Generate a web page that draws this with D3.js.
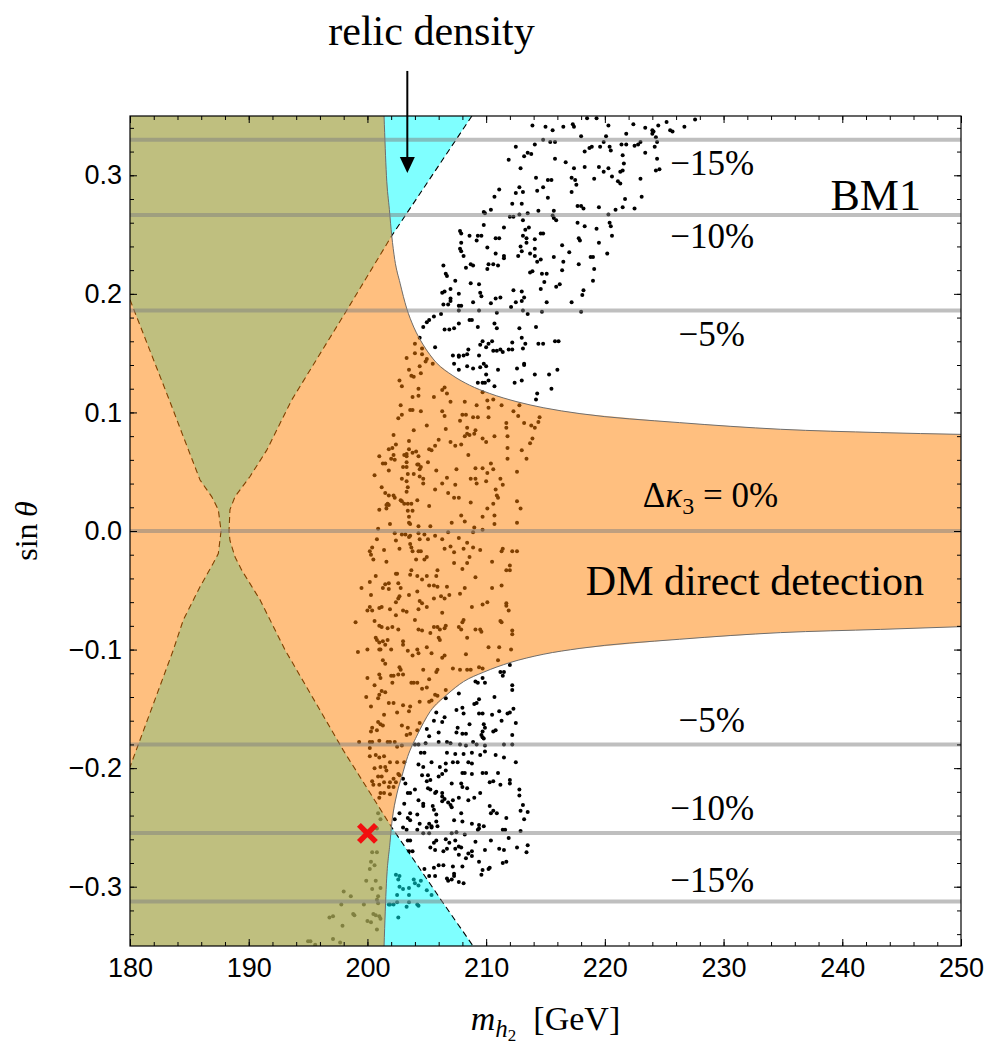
<!DOCTYPE html>
<html>
<head>
<meta charset="utf-8">
<script src="https://cdn.jsdelivr.net/npm/d3@7"></script>
<style>
body { margin: 0; background: #fff; }
</style>
</head>
<body>
<div id="chart"></div>
<script>
/* scan points (m_h2 [GeV], sin theta) */
var scatterUpper = [[213.9,.342],[215.0,.341],[215.6,.338],[216.5,.341],[217.3,.343],[217.4,.341],[218.5,.348],[219.3,.348],[220.3,.342],[222.4,.343],[223.4,.340],[224.0,.338],[224.1,.337],[224.5,.342],[225.2,.345],[225.5,.338],[225.7,.337],[226.7,.341],[227.6,.347],[221.8,.335],[224.0,.335],[218.0,.333],[220.1,.333],[214.8,.330],[215.4,.328],[215.8,.328],[214.1,.326],[212.5,.324],[218.7,.323],[218.9,.324],[219.6,.324],[219.9,.328],[220.4,.324],[221.4,.326],[221.8,.326],[222.8,.326],[222.5,.325],[223.0,.328],[224.3,.332],[224.4,.328],[224.2,.324],[218.3,.320],[220.5,.321],[213.5,.319],[213.8,.318],[213.2,.316],[211.9,.313],[215.8,.314],[216.7,.311],[221.5,.317],[223.4,.319],[224.4,.314],[221.6,.310],[212.9,.306],[217.4,.306],[218.3,.307],[219.5,.307],[219.9,.303],[220.3,.306],[221.3,.303],[221.5,.304],[224.3,.304],[224.6,.305],[217.2,.298],[217.5,.296],[220.6,.299],[214.2,.298],[215.2,.296],[215.5,.296],[214.8,.290],[219.1,.297],[221.1,.295],[221.3,.293],[223.0,.297],[217.6,.292],[212.8,.290],[212.5,.285],[213.1,.286],[211.1,.288],[214.3,.287],[210.7,.282],[215.2,.281],[217.2,.286],[221.7,.280],[223.1,.282],[212.2,.276],[213.0,.276],[217.7,.274],[218.0,.274],[218.2,.272],[219.5,.273],[220.9,.271],[221.5,.273],[222.5,.272],[210.4,.271],[209.8,.269],[209.9,.268],[214.4,.270],[215.7,.270],[213.5,.268],[212.8,.267],[215.6,.266],[215.7,.264],[215.9,.262],[220.3,.267],[212.0,.265],[212.3,.265],[213.1,.262],[209.8,.258],[211.5,.256],[217.7,.260],[218.3,.257],[220.4,.260],[220.5,.257],[213.3,.254],[213.6,.256],[213.1,.249],[214.6,.251],[214.8,.251],[219.3,.255],[207.8,.253],[207.9,.251],[208.6,.249],[209.3,.249],[209.6,.249],[209.2,.245],[210.8,.247],[211.1,.247],[213.4,.247],[217.8,.247],[217.9,.245],[220.6,.249],[207.9,.243],[210.1,.239],[212.9,.240],[213.4,.243],[214.1,.246],[216.4,.241],[214.1,.238],[207.8,.238],[207.9,.236],[210.8,.234],[208.1,.232],[211.5,.232],[211.5,.230],[213.0,.236],[213.7,.234],[214.1,.232],[217.0,.235],[215.7,.231],[218.8,.231],[219.0,.231],[219.5,.243],[220.2,.234],[214.3,.227],[214.6,.229],[206.4,.224],[208.7,.225],[208.9,.224],[208.3,.222],[210.2,.225],[210.6,.225],[211.0,.224],[212.7,.232],[216.5,.227],[216.4,.220],[217.8,.225],[219.1,.221],[210.1,.221],[213.7,.218],[213.9,.219],[214.7,.217],[215.1,.217],[206.6,.217],[206.7,.215],[207.4,.211],[219.0,.211],[208.7,.209],[209.4,.208],[214.9,.210],[216.2,.208],[214.6,.204],[212.3,.203],[213.0,.202],[215.9,.206],[206.3,.201],[206.5,.202],[207.0,.204],[207.7,.200],[209.5,.201],[209.6,.198],[211.2,.197],[207.0,.196],[207.0,.194],[206.4,.191],[206.8,.191],[207.7,.190],[207.9,.190],[208.9,.193],[210.4,.192],[210.8,.196],[212.5,.193],[213.2,.197],[213.0,.194],[215.1,.193],[217.2,.193],[218.2,.203],[218.1,.199],[212.1,.189],[213.5,.183],[214.7,.185],[218.0,.185],[209.4,.186],[207.7,.186],[206.2,.183],[210.9,.184],[213.1,.186],[204.7,.172],[205.0,.176],[205.2,.178],[205.6,.181],[208.6,.178],[208.8,.178],[207.7,.175],[210.7,.175],[210.9,.171],[209.3,.172],[207.3,.171],[206.9,.170],[206.5,.170],[212.8,.171],[214.2,.172]];

var scatterCentre = [[204.4,.163],[205.7,.155],[207.2,.148],[207.7,.148],[207.7,.147],[208.1,.148],[208.4,.149],[208.5,.153],[207.3,.141],[207.7,.136],[208.4,.139],[208.9,.137],[209.4,.148],[209.5,.157],[209.7,.160],[210.0,.155],[210.2,.158],[210.5,.160],[209.5,.138],[209.8,.141],[210.0,.139],[210.0,.132],[210.6,.152],[210.9,.152],[211.2,.153],[211.4,.151],[211.9,.153],[212.2,.153],[211.0,.136],[212.2,.159],[213.0,.163],[213.3,.158],[213.1,.154],[213.2,.141],[213.2,.140],[212.6,.137],[213.0,.127],[212.4,.125],[214.1,.132],[214.4,.158],[214.8,.158],[215.3,.132],[215.5,.120],[215.8,.160],[216.1,.160],[216.0,.136],[214.3,.116],[214.2,.111],[209.3,.125],[209.7,.125],[209.9,.125],[210.2,.127],[210.7,.122],
[204.0,.158],[204.6,.154],[204.6,.149],[204.0,.150],[205.0,.145],[204.9,.143],[203.3,.146],[205.5,.141],[203.5,.136],[204.4,.139],[203.7,.131],[203.9,.130],[204.5,.133],[202.7,.127],[202.9,.122],[204.3,.120],[206.3,.119],[206.5,.121],[206.7,.116],[203.8,.113],[204.3,.114],[205.6,.113],[202.8,.106],[202.9,.098],[202.6,.095],[203.6,.102],[203.8,.102],[204.5,.101],[206.3,.101],[206.5,.097],[207.0,.109],[208.2,.109],[209.2,.106],[209.7,.117],[210.1,.110],[210.2,.104],[210.6,.111],[211.3,.106],[212.3,.101],[212.8,.106],[212.7,.097],[208.0,.098],[208.3,.098],[207.8,.093],[208.9,.096],[209.3,.096],[210.2,.096],[211.7,.091],[211.7,.087],[213.2,.091],[213.8,.089],[214.1,.087],[214.5,.096],[214.4,.092],[205.0,.089],[206.6,.086],[208.4,.087],[208.2,.080],[208.4,.082],[208.6,.081],[209.0,.082],[209.1,.085],[209.7,.078],[210.0,.075],[210.7,.080],[211.8,.080],[213.9,.078],[213.7,.074],[203.9,.085],[202.2,.081],[203.5,.076],[202.1,.070],[202.4,.073],[201.8,.069],[206.0,.077],[205.7,.072],[207.0,.075],[207.4,.072],[207.9,.073],[205.2,.069],[205.4,.068],[203.5,.069],[203.8,.066],[204.1,.067],[203.3,.065],[203.3,.063],[203.1,.064],[202.2,.064],[201.0,.063],[201.3,.057],[201.5,.057],[202.0,.061],[202.3,.060],[213.0,.068],[213.4,.061],[211.8,.070],[211.8,.061],[208.5,.064],[204.3,.063],[203.3,.058],[203.0,.054],[203.3,.054],[204.2,.056],[204.3,.056],[204.5,.054],[204.4,.052],[205.1,.058],[205.8,.051],[207.5,.052],[209.1,.053],[209.7,.053],[210.4,.057],[210.1,.049],[210.6,.052],[212.6,.050],[200.6,.047],[201.8,.051],[202.9,.044],[203.4,.048],[203.9,.048],[204.4,.046],[204.7,.044],[206.7,.045],[208.7,.044],[209.1,.044],[209.2,.040],[210.0,.042],[211.2,.044],[211.4,.039],[210.8,.035],[210.9,.030],[211.0,.028],[210.6,.023],[210.1,.019],[209.7,.012],[210.7,.013],[210.7,.006],[212.6,.025],[212.9,.019],[212.6,.007],[203.3,.042],[203.4,.037],[204.7,.040],[206.3,.040],[207.4,.039],[205.7,.035],[201.2,.037],[201.5,.032],[201.8,.030],[202.2,.030],[202.3,.028],[203.3,.033],[206.8,.032],[207.3,.028],[207.7,.028],[208.7,.024],[203.4,.017],[204.2,.026],[202.8,.026],[202.9,.025],[203.1,.023],[203.4,.023],[203.7,.023],[201.7,.023],[201.6,.022],[201.8,.022],[201.0,.018],[201.6,.019],[205.2,.021],[203.5,.012],[203.8,.017],[203.5,.007],[203.6,.006],[201.9,.006],[204.3,.004],[205.3,.004],[207.1,.007],[207.9,.013],[208.2,.008],[209.0,.003],[200.9,.002],[202.3,-.002],[202.9,-.003],[203.2,-.003],[203.6,-.004],[204.3,-.002],[204.8,-.003],[206.8,-.001],[208.9,-.001],[209.7,.001],[200.8,-.007],[202.4,-.008],[203.5,-.005],[203.6,-.011],[203.7,-.014],[204.4,-.007],[204.5,-.017],[205.1,-.007],[205.7,-.004],[206.3,-.007],[207.0,-.013],[207.7,-.006],[208.4,-.010],[208.9,-.014],[209.5,-.016],[211.4,-.015],[211.3,-.017],[212.2,-.017],[212.6,-.017],[200.2,-.017],[200.3,-.020],[200.4,-.014],[201.4,-.016],[202.7,-.015],[203.8,-.017],[204.3,-.017],[205.0,-.022],[204.8,-.024],[204.1,-.024],[206.5,-.015],[207.3,-.018],[208.1,-.015],[208.6,-.022],[200.5,-.024],[201.6,-.026],
[200.7,-.038],[200.2,-.043],[201.3,-.048],[201.5,-.045],[201.8,-.044],[202.4,-.036],[202.5,-.036],[202.6,-.044],[203.7,-.033],[203.6,-.037],[204.2,-.038],[205.0,-.038],[205.8,-.038],[205.9,-.033],[204.6,-.041],[205.2,-.046],[205.6,-.046],[205.9,-.047],[206.7,-.047],[206.9,-.054],[206.5,-.057],[207.3,-.027],[208.0,-.032],[208.4,-.027],[209.1,-.039],[210.5,-.026],[210.5,-.048],[211.3,-.046],[212.0,-.029],[212.0,-.033],[211.7,-.033],[207.8,-.053],[208.2,-.048],[199.5,-.048],[200.3,-.054],[201.8,-.049],[202.8,-.048],[202.7,-.055],[202.6,-.057],[202.4,-.060],[203.5,-.054],[204.2,-.051],[204.4,-.059],[204.6,-.061],[205.0,-.064],[205.6,-.057],[206.2,-.055],[200.2,-.064],[200.4,-.067],[200.0,-.067],[201.0,-.065],[201.2,-.064],[201.9,-.066],[202.4,-.071],[203.0,-.067],[203.3,-.068],[204.3,-.066],[208.8,-.064],[209.7,-.062],[210.1,-.060],[211.7,-.061],[211.7,-.063],[211.9,-.067],[199.0,-.077],[200.6,-.076],[201.0,-.080],[201.2,-.081],[201.7,-.082],[202.1,-.081],[202.6,-.083],[204.0,-.075],[204.3,-.083],[204.6,-.084],[205.3,-.086],[205.6,-.081],[205.9,-.081],[206.1,-.083],[206.5,-.082],[206.6,-.080],[206.3,-.069],[207.7,-.081],[207.9,-.083],[208.1,-.075],[208.0,-.077],[209.1,-.083],[209.5,-.083],[209.6,-.085],[208.4,-.090],[206.0,-.090],[206.1,-.092],[211.2,-.076],[211.3,-.077],[212.2,-.084],[212.2,-.087],[200.7,-.090],[200.8,-.092],[201.0,-.094],[201.3,-.093],[201.7,-.092],[201.5,-.096],[203.0,-.093],[203.0,-.096],[199.2,-.102],[200.0,-.100],[201.0,-.100],[201.1,-.100],[202.0,-.100],[203.4,-.101],[203.8,-.105],[204.2,-.100],[204.3,-.103],[205.0,-.098],[205.4,-.103],[206.5,-.105],[206.3,-.107],[208.3,-.104],[210.2,-.098],[211.1,-.098],[212.1,-.100],[211.0,-.109],[201.3,-.109],[201.5,-.112],[202.7,-.115],[202.8,-.117],[204.7,-.117],[205.8,-.119],[205.9,-.117],[207.2,-.116],[207.8,-.117],[208.4,-.117],[208.7,-.117],[209.4,-.115],[209.7,-.116],[200.0,-.124],[201.0,-.121],[201.1,-.124],[202.2,-.122],[202.6,-.121],[203.0,-.121],[202.0,-.122],[202.1,-.128],[203.7,-.128],[203.9,-.128],[204.2,-.128],[204.6,-.133],[205.2,-.125],[205.0,-.132],[200.6,-.130],[201.0,-.138],[201.2,-.135],[201.5,-.136],[199.9,-.140],[200.9,-.141],[201.8,-.145],[202.2,-.145],[203.0,-.147],[203.6,-.148],[204.4,-.144],[205.2,-.144],[205.4,-.143],[205.7,-.138],[205.9,-.139],[206.6,-.134],[200.3,-.148],[201.4,-.155],[202.5,-.153],[203.5,-.152],[200.9,-.161],[201.1,-.163],[201.3,-.164],[200.4,-.166],[200.3,-.169],[200.8,-.168],[202.9,-.164],[203.4,-.166],[203.6,-.171],[204.2,-.168],[204.4,-.162],[203.3,-.172],[199.3,-.178],[200.2,-.178],[200.4,-.178],[201.0,-.177],[201.7,-.178],[201.9,-.178],[202.3,-.178],[202.9,-.181],[200.2,-.183],[202.5,-.182],
[212.0,-.113],[211.2,-.119],[211.4,-.122],[211.5,-.119],[209.1,-.127],[209.3,-.128],[209.7,-.124],[209.9,-.128],[212.2,-.130],[212.2,-.134],[207.7,-.137],[206.6,-.141],[209.0,-.146],[209.2,-.145],[209.4,-.142],[210.7,-.140],[208.0,-.149],[207.5,-.151],[208.1,-.154],[209.4,-.154],[209.7,-.154],[210.5,-.155],[211.1,-.152],[211.8,-.154],[212.3,-.150],[212.0,-.153],[205.8,-.153],[206.5,-.157],[205.6,-.160],[206.3,-.161],[207.5,-.170],[208.0,-.171],[208.3,-.171],[207.6,-.166],[208.6,-.163],[209.8,-.163],[209.9,-.166],[209.7,-.169],[209.6,-.172],[209.7,-.174],[210.8,-.168],[210.6,-.169],[211.3,-.160],[212.5,-.162],[212.2,-.172],[205.0,-.167],[205.2,-.173],[204.9,-.179],[206.0,-.170],[206.0,-.178],[206.7,-.178],[207.0,-.179],[207.8,-.180],[208.3,-.181],[208.9,-.178],[209.8,-.175],[209.2,-.180],[209.9,-.181],[204.0,-.180],[204.3,-.180],[212.2,-.180],[211.5,-.180]];

var scatterLower = [[204.5,-.187],[204.8,-.187],[206.7,-.187],[207.4,-.188],[208.1,-.188],[208.8,-.187],[209.5,-.189],[209.9,-.186],[210.8,-.189],[211.5,-.191],[212.5,-.195],[203.1,-.195],[204.3,-.197],[204.7,-.199],[205.4,-.195],[206.1,-.199],[206.6,-.196],[207.2,-.195],[207.6,-.195],[208.5,-.195],[208.8,-.196],[206.6,-.202],[206.3,-.205],[208.0,-.204],[208.2,-.204],[208.8,-.205],[209.7,-.204],[210.0,-.204],[210.3,-.212],[211.0,-.204],[210.6,-.211],[211.2,-.214],[212.0,-.210],[212.0,-.213],[204.6,-.206],[205.1,-.206],[205.0,-.211],[205.3,-.210],[206.0,-.207],[203.0,-.209],[203.2,-.213],[203.4,-.221],[204.0,-.218],[203.6,-.221],[205.1,-.217],[205.3,-.218],[205.7,-.221],[205.8,-.220],[206.3,-.221],[206.3,-.224],[206.5,-.226],[206.8,-.229],[207.0,-.231],[207.1,-.233],[208.0,-.216],[207.1,-.213],[207.9,-.213],[208.4,-.217],[209.5,-.221],[208.5,-.227],[209.0,-.225],[204.3,-.227],[203.1,-.230],[204.7,-.230],[204.7,-.232],[205.5,-.232],[205.6,-.235],[205.8,-.239],[206.3,-.228],[207.2,-.227],[207.7,-.225],[210.3,-.232],[210.4,-.238],[210.6,-.236],[210.9,-.238],[212.8,-.218],[212.8,-.223],[213.1,-.231],[212.9,-.236],[213.5,-.237],[202.7,-.238],[203.6,-.238],[203.4,-.242],[203.6,-.244],[204.2,-.239],[204.4,-.247],[205.2,-.247],[205.4,-.249],[205.8,-.245],[207.3,-.244],[208.0,-.245],[207.9,-.238],[208.8,-.247],[209.4,-.248],[209.8,-.249],[209.4,-.251],[211.7,-.242],[213.2,-.243],[202.3,-.243],[203.3,-.252],[203.0,-.250],[204.2,-.252],[205.0,-.250],[205.4,-.250],[205.9,-.249],[207.1,-.255],[207.5,-.254],[208.2,-.256],[209.3,-.252],[211.4,-.252],[211.6,-.252],[212.9,-.253],[204.7,-.255],[205.2,-.255],[203.6,-.261],[203.4,-.261],[205.8,-.261],[205.6,-.263],[206.6,-.260],[206.9,-.263],[207.4,-.261],[207.7,-.266],[207.4,-.268],[207.9,-.267],[209.1,-.262],[210.4,-.261],[211.9,-.259],[212.6,-.267],[213.5,-.265],[213.4,-.271],[203.8,-.270],[203.5,-.270],[205.3,-.267],[205.7,-.269],[206.4,-.270],[206.7,-.268],[207.7,-.273],[208.5,-.272],[208.3,-.276],[208.8,-.270],[208.8,-.274],[209.9,-.269],[211.1,-.268],[211.5,-.269],[211.7,-.279],[211.4,-.280],[204.8,-.285],[205.6,-.284],[206.0,-.282],[206.4,-.282],[207.3,-.289],[207.3,-.291],[207.2,-.283],[208.0,-.283],[210.3,-.284],[210.2,-.285],[209.6,-.290],[209.7,-.286],[209.4,-.279],[205.2,-.291],[205.7,-.291],[206.7,-.293],[206.8,-.295],[207.1,-.294],[207.7,-.296],[208.1,-.297],
[202.4,-.290],[202.7,-.291],[202.6,-.294],[202.7,-.300],[203.0,-.302],[202.5,-.307],[203.5,-.307],[203.9,-.294],[204.0,-.297],[204.3,-.299],[204.5,-.295],[205.0,-.303],[205.4,-.307],[203.5,-.313],[201.8,-.315],[201.9,-.315],[202.2,-.315],[202.5,-.313],[203.3,-.317],[204.2,-.315],[204.3,-.316],[202.6,-.326],[203.5,-.301],
[200.9,-.238],[201.1,-.243],[200.8,-.251],[200.4,-.271],[200.8,-.271],[200.3,-.279],[200.6,-.282],[200.2,-.285],[199.9,-.295],[200.7,-.295],[200.4,-.302],[201.1,-.301],[200.9,-.308],[200.8,-.311],[198.0,-.304],[198.6,-.308],[197.8,-.315],[199.7,-.315],[200.9,-.314],[200.5,-.323],[200.7,-.324],[201.0,-.325],[201.1,-.327],[200.0,-.329],[200.3,-.330],[198.8,-.323],[198.9,-.324],[197.1,-.325],[196.8,-.326],[197.9,-.333],[200.8,-.336],[195.2,-.346],[195.0,-.346],[195.6,-.349],[197.1,-.344],[197.7,-.347],
[200.2,-.190],[200.7,-.189],[201.0,-.191],[201.4,-.190],[201.9,-.195],[202.5,-.195],[200.6,-.200],[201.1,-.199],[201.6,-.202],[201.5,-.199],[202.6,-.205],[202.7,-.206],[200.9,-.207],[201.2,-.207],[200.4,-.211],[200.5,-.214],[201.0,-.214],[201.4,-.212],[201.9,-.212],[201.8,-.216],[202.2,-.216],[201.1,-.221],[201.9,-.222],[201.0,-.225],[201.4,-.221],[202.2,-.209],[202.4,-.212]];

/* DM direct detection boundary (solid curves) */
var ddUpper = [[201.4,.35],[201.6,.30],[201.85,.271],[202.05,.249],[202.3,.229],[202.75,.209],[203.3,.188],[203.9,.172],[204.7,.157],[205.8,.142],[207.2,.131],[208.6,.123],[210.3,.116],[212.6,.109],[214.8,.104],[217.9,.099],[226.3,.0914],[234.8,.0858],[243.2,.083],[250,.0815]];
var ddLower = [[201.4,-.35],[201.6,-.297],[201.9,-.263],[202.05,-.247],[202.5,-.221],[202.9,-.207],[203.4,-.19],[204.15,-.173],[205.3,-.152],[206.7,-.138],[208.1,-.127],[209.8,-.119],[212.0,-.111],[214.8,-.104],[217.9,-.099],[226.3,-.0913],[234.8,-.0857],[243.2,-.083],[250,-.0807]];

/* relic density boundary (dashed curves) */
var relicLeft = [[180,.195],[183.31,.1105],[184.49,.0796],[185.9,.043],[186.88,.029],[187.44,.018],[187.67,0],[187.44,-.019],[187.02,-.027],[185.9,-.047],[184.49,-.075],[183.65,-.1003],[180,-.199]];
var relicRight = [[208.8,.35],[202.05,.249],[198.25,.186],[193.62,.1105],[191.51,.068],[190.11,.046],[188.85,.029],[188.42,.018],[188.34,0],[188.42,-.008],[188.85,-.022],[189.41,-.033],[190.95,-.058],[193.06,-.1003],[197.97,-.185],[202.05,-.25],[206.26,-.312],[208.9,-.35]];

/* Delta kappa_3 contours */
var kappaLevels = [0.330, 0.2665, 0.186, 0, -0.180, -0.2548, -0.3124];

/* benchmark point */
var benchmark = [200, -0.255];

var xTicks = [180, 190, 200, 210, 220, 230, 240, 250];
var yTicks = [-0.3, -0.2, -0.1, 0, 0.1, 0.2, 0.3];

/* size of the graphic */
var width = 990, height = 1044;
var plotLeft = 130, plotRight = 961, plotTop = 116, plotBottom = 946;
var serif = "'Liberation Serif','Times New Roman',serif";
var sans = "'Liberation Sans',Arial,sans-serif";

var svg = d3.select("#chart")
	.append("svg")
		.attr("width", width)
		.attr("height", height);

svg.append("rect").attr("width", width).attr("height", height).attr("fill", "#fff");

var x = d3.scaleLinear().domain([180, 250]).range([plotLeft, plotRight]);
var y = d3.scaleLinear().domain([-0.35, 0.35]).range([plotBottom, plotTop]);

var line = d3.line().x(function(d) { return x(d[0]); }).y(function(d) { return y(d[1]); });

svg.append("clipPath").attr("id", "plotclip")
	.append("rect")
		.attr("x", plotLeft).attr("y", plotTop)
		.attr("width", plotRight - plotLeft).attr("height", plotBottom - plotTop);

var plot = svg.append("g").attr("clip-path", "url(#plotclip)");

/* scan points first, shaded regions are laid over them */
plot.append("g").selectAll("circle")
	.data(scatterUpper.concat(scatterCentre, scatterLower))
	.enter().append("circle")
		.attr("cx", function(d) { return x(d[0]); })
		.attr("cy", function(d) { return y(d[1]); })
		.attr("r", 2)
		.attr("fill", "#000");

/* relic density region */
var relicPoly = [[180, .35]].concat(relicRight, [[180, -.35]], relicLeft.slice().reverse(), [[180, .35]]);
plot.append("path")
	.attr("d", line(relicPoly) + "Z")
	.attr("fill", "rgba(0,255,255,0.5)");

plot.selectAll(".relic")
	.data([relicLeft, relicRight])
	.enter().append("path")
		.attr("d", line)
		.attr("fill", "none")
		.attr("stroke", "#000")
		.attr("stroke-width", 1.1)
		.attr("stroke-dasharray", "6,4");

/* DM direct detection region */
var ddPoly = [[180, .35]].concat(ddUpper, ddLower.slice().reverse(), [[180, -.35]]);
plot.append("path")
	.attr("d", line(ddPoly) + "Z")
	.attr("fill", "rgba(255,128,0,0.5)");

plot.selectAll(".dd")
	.data([ddUpper, ddLower])
	.enter().append("path")
		.attr("d", d3.line().curve(d3.curveMonotoneX).x(function(d) { return x(d[0]); }).y(function(d) { return y(d[1]); }))
		.attr("fill", "none")
		.attr("stroke", "#6e6e6e")
		.attr("stroke-width", 1);

/* Delta kappa_3 contours */
plot.selectAll(".kappa")
	.data(kappaLevels)
	.enter().append("line")
		.attr("x1", plotLeft).attr("x2", plotRight)
		.attr("y1", function(d) { return y(d); })
		.attr("y2", function(d) { return y(d); })
		.attr("stroke", "rgba(128,128,128,0.5)")
		.attr("stroke-width", 4);

/* benchmark cross */
var bx = x(benchmark[0]), by = y(benchmark[1]);
plot.append("path")
	.attr("d", "M" + (bx - 8.5) + "," + (by - 8.5) + "L" + (bx + 8.5) + "," + (by + 8.5) +
		"M" + (bx - 8.5) + "," + (by + 8.5) + "L" + (bx + 8.5) + "," + (by - 8.5))
	.attr("stroke", "#f20f0f")
	.attr("stroke-width", 5.5);

/* axes: ticks inward on all four sides */
function styleAxis(g) {
	g.select(".domain").remove();
	g.selectAll(".tick line").attr("stroke", "#000").attr("stroke-width", 1);
	g.selectAll("text").attr("font-family", sans).attr("font-size", 27).attr("fill", "#000");
}
var xMinor = d3.range(180, 251, 2);
var yMinor = d3.range(-34, 35, 2).map(function(v) { return v / 100; });

svg.append("g").attr("transform", "translate(0," + plotBottom + ")")
	.call(d3.axisBottom(x).tickValues(xMinor).tickSize(-4).tickFormat("")).call(styleAxis);
svg.append("g").attr("transform", "translate(0," + plotBottom + ")")
	.call(d3.axisBottom(x).tickValues(xTicks).tickSize(-7).tickPadding(12).tickFormat(d3.format("d"))).call(styleAxis);
svg.append("g").attr("transform", "translate(0," + plotTop + ")")
	.call(d3.axisTop(x).tickValues(xMinor).tickSize(-4).tickFormat("")).call(styleAxis);
svg.append("g").attr("transform", "translate(0," + plotTop + ")")
	.call(d3.axisTop(x).tickValues(xTicks).tickSize(-7).tickFormat("")).call(styleAxis);

svg.append("g").attr("transform", "translate(" + plotLeft + ",0)")
	.call(d3.axisLeft(y).tickValues(yMinor).tickSize(-4).tickFormat("")).call(styleAxis);
svg.append("g").attr("transform", "translate(" + plotLeft + ",0)")
	.call(d3.axisLeft(y).tickValues(yTicks).tickSize(-7).tickPadding(8).tickFormat(d3.format(".1f"))).call(styleAxis);
svg.append("g").attr("transform", "translate(" + plotRight + ",0)")
	.call(d3.axisRight(y).tickValues(yMinor).tickSize(-4).tickFormat("")).call(styleAxis);
svg.append("g").attr("transform", "translate(" + plotRight + ",0)")
	.call(d3.axisRight(y).tickValues(yTicks).tickSize(-7).tickFormat("")).call(styleAxis);

svg.append("rect")
	.attr("x", plotLeft).attr("y", plotTop)
	.attr("width", plotRight - plotLeft).attr("height", plotBottom - plotTop)
	.attr("fill", "none").attr("stroke", "#000").attr("stroke-width", 1.2);

/* axis titles */
var xt = svg.append("text")
	.attr("x", (plotLeft + plotRight) / 2).attr("y", 1030)
	.attr("text-anchor", "middle")
	.attr("font-family", serif).attr("font-size", 34);
xt.append("tspan").attr("font-style", "italic").text("m");
xt.append("tspan").attr("font-style", "italic").attr("font-size", 25).attr("dy", 7).text("h");
xt.append("tspan").attr("font-size", 17).attr("dy", 4).text("2");
xt.append("tspan").attr("dy", -11).text("\u2002[GeV]");

var yt = svg.append("text")
	.attr("transform", "translate(37," + y(0) + ") rotate(-90)")
	.attr("text-anchor", "middle")
	.attr("font-family", serif).attr("font-size", 32);
yt.append("tspan").text("sin\u2009");
yt.append("tspan").attr("font-style", "italic").text("\u03b8");

/* annotations */
function label(m, s, txt, size) {
	return svg.append("text")
		.attr("x", x(m)).attr("y", y(s))
		.attr("font-family", serif).attr("font-size", size)
		.attr("fill", "#000")
		.text(txt);
}
label(225.5, 0.300, "\u221215%", 35);
label(225.5, 0.2387, "\u221210%", 35);
label(226.2, 0.156, "\u22125%", 35);
label(226.2, -0.1695, "\u22125%", 35);
label(225.5, -0.2437, "\u221210%", 35);
label(225.5, -0.3045, "\u221215%", 35);
label(239.0, 0.2707, "BM1", 44);
label(218.4, -0.054, "DM direct detection", 42);

var dk = label(223.2, 0.020, "", 35);
dk.append("tspan").text("\u0394");
dk.append("tspan").attr("font-style", "italic").text("\u03ba");
dk.append("tspan").attr("font-size", 24).attr("dy", 7).text("3");
dk.append("tspan").attr("dy", -7).text(" = 0%");

label(205.4, 0.410, "relic density", 42).attr("text-anchor", "middle");

/* arrow pointing into the relic density band */
var ax = x(203.36), ay0 = y(0.388), ay1 = y(0.302);
svg.append("line")
	.attr("x1", ax).attr("x2", ax)
	.attr("y1", ay0).attr("y2", ay1 - 10)
	.attr("stroke", "#000").attr("stroke-width", 2);
svg.append("path")
	.attr("d", "M" + (ax - 7.5) + "," + (ay1 - 16) + "L" + (ax + 7.5) + "," + (ay1 - 16) + "L" + ax + "," + ay1 + "Z")
	.attr("fill", "#000");
</script>
</body>
</html>
